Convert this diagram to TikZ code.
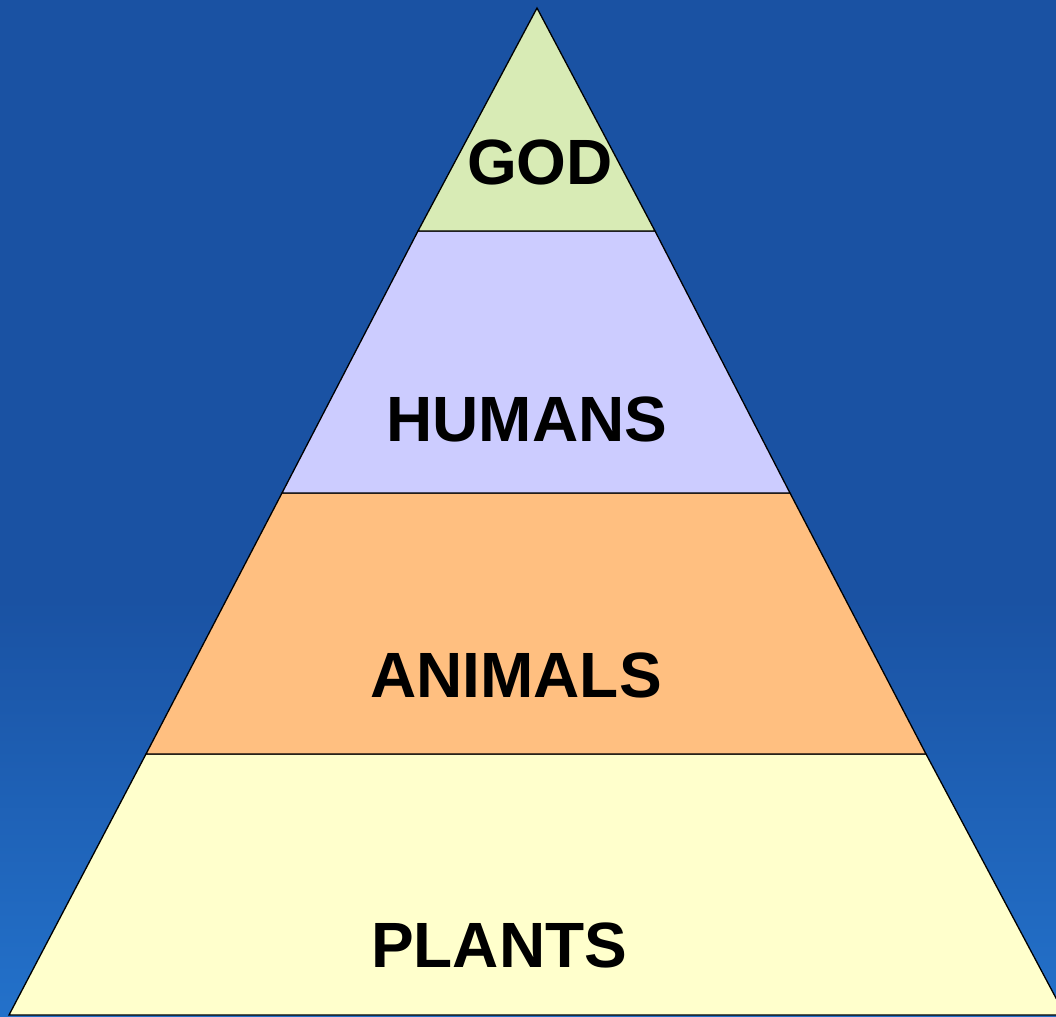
\documentclass[tikz,border=0pt]{standalone}
\usepackage{fontspec}
\setmainfont{Liberation Sans}
\definecolor{bgtop}{HTML}{1A52A3}
\definecolor{bgbot}{HTML}{2371CA}
\definecolor{cgod}{HTML}{D8EBB5}
\definecolor{chum}{HTML}{CCCCFF}
\definecolor{cani}{HTML}{FFBF80}
\definecolor{cpla}{HTML}{FFFFCC}
\begin{document}
\begin{tikzpicture}[x=1pt,y=-1pt,
  layer/.style={draw=black,line width=1.3pt,line join=miter},
  lbl/.style={font=\bfseries\fontsize{64}{64}\selectfont,text=black,inner sep=0pt,anchor=base}]
\useasboundingbox (0,0) rectangle (1056,1016);
\clip (0,0) rectangle (1056,1016);
\fill[bgtop] (0,0) rectangle (1056,600);
\fill[top color=bgtop,bottom color=bgbot] (0,599) rectangle (1056,1016);
% apex and layer boundaries (slope 0.525)
\coordinate (A) at (537,8);
\fill[cpla,layer] (146,754) -- (926,754) -- (1065,1015) -- (9,1015) -- cycle;
\fill[cani,layer] (282,493) -- (790,493) -- (926,754) -- (146,754) -- cycle;
\fill[chum,layer] (418,231) -- (655,231) -- (790,493) -- (282,493) -- cycle;
\fill[cgod,layer] (A) -- (655,231) -- (418,231) -- cycle;
\node[lbl] (god) at (540,185) {GOD};
\node[lbl] (humans) at (527,441) {HUMANS};
\node[lbl] (animals) at (516,697) {ANIMALS};
\node[lbl] (plants) at (499,967) {PLANTS};
\end{tikzpicture}
\end{document}
